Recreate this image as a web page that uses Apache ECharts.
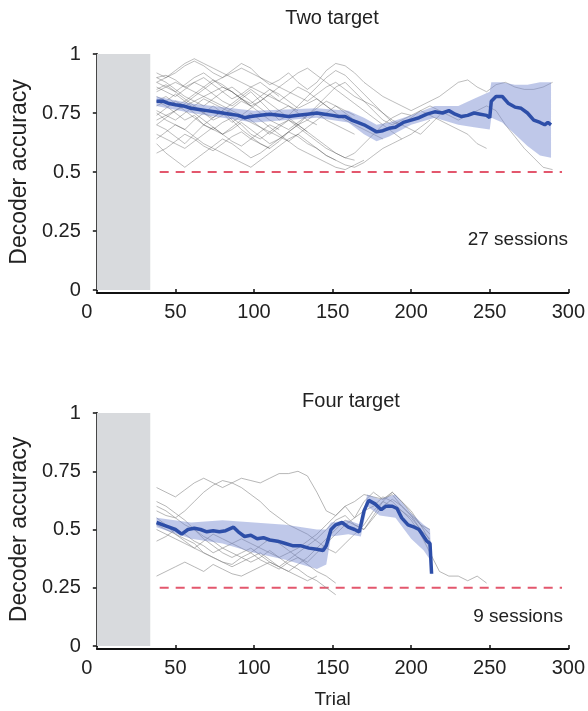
<!DOCTYPE html>
<html>
<head>
<meta charset="utf-8">
<script src="https://cdn.jsdelivr.net/npm/echarts@6/dist/echarts.min.js"></script>
<style>
html,body{margin:0;padding:0;background:#fff;}
#chart{width:588px;height:711px;}
</style>
</head>
<body>
<div id="chart"></div>
<script>
// ---------- DATA ----------
const X_TICKS = [0, 50, 100, 150, 200, 250, 300];
const Y_TICKS = [0, 0.25, 0.5, 0.75, 1];
const CALIB_END = 34;              // grey calibration block (trials 0-34)
const CHANCE_TWO = 0.5;
const CHANCE_FOUR = 0.25;
const CHANCE_RANGE = [40, 296];

// trial grid used by individual session traces
const TRACE_TRIALS = [38,44,50,56,62,68,74,80,86,92,98,104,110,116,122,128,134,140,146,152,158,164,170,176,182,188,194,200,206,212,218,224,230,236,242,248,254,260,266,272,278,284,290];

// ---- Two target: individual sessions ----
const TWO_S1 = [0.88,0.90,0.92,0.95,0.97,0.95,0.92,0.90,0.93,0.96,0.94,0.90,0.87,0.89,0.92,0.88,0.85,0.88,0.93,0.96,0.95,0.92,0.88,0.85,0.82,0.80,0.78,0.76,0.78,0.80,0.82,0.85,0.88,0.89,0.86,0.84,0.87,0.88,0.86,0.85,0.85,0.86,0.88];
const TWO_S2 = [0.80,0.78,0.75,0.72,0.74,0.70,0.68,0.71,0.73,0.70,0.66,0.64,0.67,0.70,0.72,0.69,0.66,0.63,0.60,0.58,0.56,0.58,0.62,0.66,0.70,0.73,0.75,0.74,0.76,0.78,0.76,0.74,0.72,0.74,0.76,0.78,0.76,0.70,0.65,0.60,0.56,0.52,0.51];
const TWO_S3 = [0.86,0.84,0.82,0.85,0.88,0.86,0.83,0.80,0.78,0.81,0.84,0.80,0.76,0.72,0.74,0.78,0.82,0.86,0.90,0.93,0.91,0.87,0.83,0.79,0.75,0.71,0.70,0.73,0.76,0.74,0.72,0.70,0.68,0.66,0.62,0.60];
const TWO_S4 = [0.70,0.68,0.65,0.62,0.66,0.70,0.73,0.76,0.72,0.68,0.65,0.62,0.60,0.63,0.67,0.70,0.74,0.78,0.82,0.86,0.88,0.84,0.80,0.76,0.72,0.70,0.72,0.74];
const TWO_S5 = [0.92,0.90,0.93,0.96,0.98,0.96,0.94,0.92,0.90,0.88,0.86,0.84,0.82,0.80,0.83,0.86,0.84,0.81,0.78,0.75,0.72,0.70,0.68,0.66,0.64];
const TWO_S6 = [0.78,0.80,0.83,0.80,0.77,0.75,0.73,0.76,0.79,0.82,0.85,0.82,0.79,0.76,0.73,0.70,0.72,0.75,0.72,0.70,0.68,0.66];
const TWO_S7 = [0.62,0.58,0.55,0.52,0.55,0.58,0.61,0.64,0.62,0.59,0.56,0.58,0.61,0.64,0.67,0.65,0.62,0.60,0.57,0.55];
const TWO_S8 = [0.90,0.88,0.85,0.82,0.80,0.78,0.81,0.84,0.86,0.83,0.80,0.77,0.74,0.76,0.78,0.75,0.72,0.70];
const TWO_S9 = [0.75,0.72,0.70,0.68,0.65,0.62,0.60,0.58,0.56,0.54,0.52,0.55,0.58,0.61,0.64,0.66,0.63,0.60,0.57,0.55,0.53,0.52,0.54,0.57,0.60,0.62,0.64];
const TWO_S10 = [0.84,0.86,0.88,0.86,0.84,0.82,0.80,0.78,0.76,0.74,0.77,0.80,0.83,0.80,0.78,0.76];
const TWO_S11 = [0.72,0.74,0.76,0.78,0.80,0.82,0.84,0.86,0.84,0.81,0.78,0.75,0.72,0.70,0.68,0.71,0.74,0.77,0.80,0.78,0.75,0.72,0.70,0.68];
const TWO_S12 = [0.66,0.64,0.62,0.60,0.63,0.66,0.69,0.66,0.63,0.61,0.64,0.67,0.70,0.68];
const TWO_S13 = [0.88,0.86,0.84,0.87,0.90,0.92,0.89,0.86,0.84,0.81,0.78,0.80,0.83,0.86,0.89,0.92,0.94,0.91,0.88,0.85,0.82,0.79,0.76,0.73,0.70,0.67,0.64,0.66,0.69,0.72];
const TWO_S14 = [0.58,0.60,0.63,0.66,0.64,0.61,0.59,0.62,0.65,0.67,0.64,0.62,0.60];
const TWO_S15 = [0.80,0.82,0.79,0.76,0.73,0.70,0.68,0.66,0.69,0.72,0.75,0.72,0.69,0.66,0.63,0.60,0.58,0.56,0.54,0.52,0.51,0.53,0.55];
const TWO_S16 = [0.85,0.87,0.84,0.81,0.78,0.75,0.72,0.74,0.77,0.80,0.78];
const TWO_S17 = [0.76,0.74,0.72,0.75,0.78,0.81,0.79,0.77,0.75,0.73,0.71,0.69,0.67,0.65,0.63,0.66,0.69,0.72,0.75,0.78,0.76,0.74];
const TWO_S18 = [0.70,0.73,0.76,0.79,0.82,0.85,0.88,0.90,0.92,0.94,0.92,0.90,0.88,0.86,0.84,0.82,0.80,0.83,0.86,0.88,0.85,0.82,0.80,0.78,0.75,0.72,0.70,0.68,0.66,0.70,0.74];
const TWO_S19 = [0.90,0.91,0.89,0.86,0.88,0.90,0.87,0.84,0.81,0.83,0.86,0.88,0.85,0.82];
const TWO_S20 = [0.74,0.77,0.80,0.78,0.75,0.72,0.69,0.66,0.68,0.71,0.68,0.65,0.62,0.64,0.67,0.70,0.67];
const TWO_S21 = [0.82,0.80,0.78,0.80,0.83,0.86,0.89,0.87,0.84,0.81,0.79,0.82,0.85,0.83,0.80,0.77,0.79,0.81,0.78,0.75];
const TWO_S22 = [0.64,0.67,0.70,0.68,0.72,0.75,0.78,0.75,0.71,0.74,0.72,0.69,0.66,0.69,0.72,0.70,0.67,0.64,0.61,0.58,0.56,0.55];
const TWO_SESSIONS = [TWO_S1,TWO_S2,TWO_S3,TWO_S4,TWO_S5,TWO_S6,TWO_S7,TWO_S8,TWO_S9,TWO_S10,TWO_S11,TWO_S12,TWO_S13,TWO_S14,TWO_S15,TWO_S16,TWO_S17,TWO_S18,TWO_S19,TWO_S20,TWO_S21,TWO_S22];

// ---- Two target: mean and confidence band ----
const TWO_MEAN_TRIAL = [38,42,46,50,55,60,65,70,75,80,85,90,94,98,104,110,116,122,128,134,140,145,150,154,158,162,166,170,174,178,182,186,190,195,200,205,210,215,220,224,228,232,236,240,244,248,250,251,254,258,262,266,270,274,278,282,285,287,289];
const TWO_MEAN = [0.80,0.80,0.79,0.785,0.78,0.77,0.765,0.76,0.755,0.75,0.745,0.74,0.73,0.735,0.74,0.745,0.74,0.735,0.74,0.745,0.75,0.745,0.74,0.735,0.735,0.72,0.71,0.70,0.685,0.67,0.675,0.685,0.69,0.71,0.72,0.73,0.745,0.755,0.75,0.76,0.745,0.735,0.74,0.75,0.745,0.74,0.73,0.80,0.82,0.82,0.79,0.775,0.77,0.75,0.72,0.71,0.70,0.71,0.70];
const TWO_BAND_TRIAL = [38,60,100,140,160,170,178,186,200,215,230,240,250,251,258,266,274,282,289];
const TWO_BAND_HI = [0.82,0.79,0.76,0.77,0.76,0.73,0.70,0.71,0.74,0.78,0.78,0.81,0.84,0.88,0.88,0.87,0.87,0.88,0.88];
const TWO_BAND_LO = [0.78,0.75,0.71,0.73,0.71,0.66,0.63,0.65,0.70,0.73,0.70,0.69,0.68,0.73,0.71,0.66,0.61,0.57,0.56];

// ---- Four target: individual sessions ----
const FOUR_S1 = [0.68,0.66,0.64,0.67,0.70,0.72,0.70,0.68,0.70,0.72,0.71,0.70,0.72,0.74,0.74,0.75,0.73,0.66,0.58,0.56,0.60,0.55,0.62,0.66,0.63,0.65,0.60,0.56,0.52,0.45];
const FOUR_S2 = [0.58,0.56,0.55,0.58,0.62,0.66,0.69,0.71,0.70,0.68,0.65,0.62,0.58,0.55,0.52,0.50,0.48,0.45,0.42,0.40,0.44,0.48,0.52,0.58,0.62,0.60,0.58,0.55,0.50,0.42];
const FOUR_S3 = [0.55,0.52,0.48,0.45,0.42,0.40,0.38,0.36,0.35,0.38,0.40,0.37,0.35,0.33,0.36,0.38,0.35,0.32,0.30,0.27];
const FOUR_S4 = [0.60,0.58,0.55,0.52,0.50,0.47,0.45,0.42,0.40,0.38,0.36,0.38,0.41,0.38,0.35,0.33,0.30,0.28,0.25,0.22];
const FOUR_S5 = [0.30,0.32,0.34,0.36,0.34,0.32,0.35,0.33,0.31,0.30,0.32,0.34,0.36,0.34,0.32,0.30,0.28,0.30];
const FOUR_S6 = [0.50,0.48,0.46,0.44,0.42,0.45,0.48,0.46,0.44,0.42,0.40,0.43,0.46,0.44,0.41,0.38,0.36,0.40,0.44,0.48,0.52,0.55,0.58,0.60,0.64,0.62,0.58,0.54,0.48,0.40,0.32,0.30,0.30,0.28,0.30,0.27];
const FOUR_S7 = [0.62,0.60,0.57,0.54,0.50,0.46,0.43,0.40,0.38,0.40,0.42,0.39,0.36,0.34,0.37,0.40,0.43,0.46,0.50,0.54,0.56,0.52,0.50,0.55,0.60,0.63,0.60,0.56,0.50,0.46];
const FOUR_S8 = [0.45,0.47,0.50,0.48,0.45,0.43,0.40,0.42,0.44,0.46,0.44,0.42,0.40,0.38,0.40,0.42,0.45,0.48,0.52,0.56,0.60,0.62,0.65,0.64,0.63,0.66,0.62,0.58,0.52,0.48];
const FOUR_S9 = [0.52,0.50,0.48,0.46,0.44,0.40,0.38,0.36,0.34,0.36,0.38,0.40,0.37,0.34,0.32,0.35,0.38,0.42,0.46,0.50,0.54,0.52,0.50,0.56,0.62,0.66,0.62,0.57,0.52,0.50];
const FOUR_SESSIONS = [FOUR_S1,FOUR_S2,FOUR_S3,FOUR_S4,FOUR_S5,FOUR_S6,FOUR_S7,FOUR_S8,FOUR_S9];

// ---- Four target: mean and confidence band ----
const FOUR_MEAN_TRIAL = [38,42,46,50,54,58,62,66,70,74,78,82,87,90,94,98,102,106,110,115,120,125,130,135,140,144,146,149,152,156,160,164,167,170,173,177,181,184,188,191,194,198,202,205,208,210,212,213];
const FOUR_MEAN = [0.53,0.52,0.51,0.50,0.48,0.50,0.505,0.50,0.49,0.495,0.49,0.495,0.51,0.49,0.47,0.475,0.46,0.465,0.455,0.45,0.44,0.43,0.43,0.42,0.415,0.41,0.43,0.50,0.52,0.53,0.51,0.50,0.49,0.58,0.625,0.61,0.585,0.60,0.60,0.59,0.55,0.52,0.51,0.50,0.47,0.45,0.44,0.31];
const FOUR_BAND_TRIAL = [38,60,80,100,120,140,146,149,160,168,172,180,190,200,208,212,213];
const FOUR_BAND_HI = [0.55,0.53,0.54,0.53,0.52,0.50,0.50,0.53,0.54,0.52,0.65,0.63,0.65,0.57,0.52,0.50,0.34];
const FOUR_BAND_LO = [0.51,0.46,0.44,0.40,0.37,0.33,0.35,0.47,0.48,0.47,0.60,0.56,0.55,0.46,0.41,0.37,0.30];

// ---------- CHART ----------
const FONT = "'Liberation Sans', Arial, Helvetica, sans-serif";
const chart = echarts.init(document.getElementById('chart'), null, {renderer: 'canvas'});

function pairs(xs, ys) { return ys.map((v, i) => [xs[i], v]); }

function xAxisCfg(gridIndex, withName) {
  return {
    type: 'value', gridIndex, min: 0, max: 300, interval: 50, offset: 3,
    name: withName ? 'Trial' : '', nameLocation: 'middle', nameGap: 41,
    nameTextStyle: {fontFamily: FONT, fontSize: 19, color: '#222'},
    axisLine: {show: true, onZero: false, lineStyle: {color: '#111', width: 1.8}},
    axisTick: {show: true, inside: true, length: 4, lineStyle: {color: '#111', width: 1.5}},
    splitLine: {show: false},
    axisLabel: {
      margin: 9, fontFamily: FONT, fontSize: 20, color: '#222',
      formatter: v => v === 0 ? '{z|0}' : String(v),
      rich: {z: {fontFamily: FONT, fontSize: 20, color: '#222', padding: [0, 20, 0, 0]}}
    }
  };
}
function yAxisCfg(gridIndex) {
  return {
    type: 'value', gridIndex, min: 0, max: 1, interval: 0.25, offset: 8,
    name: 'Decoder accuracy', nameLocation: 'middle', nameGap: 56, nameRotate: 90,
    nameTextStyle: {fontFamily: FONT, fontSize: 23, color: '#222'},
    axisLine: {show: true, lineStyle: {color: '#111', width: 1.8}},
    axisTick: {show: true, inside: false, length: 4, lineStyle: {color: '#111', width: 1.5}},
    splitLine: {show: false},
    axisLabel: {margin: 8, fontFamily: FONT, fontSize: 20, color: '#222'}
  };
}

function bandSeries(idx, bt, hi, lo) {
  return {
    type: 'custom', xAxisIndex: idx, yAxisIndex: idx, silent: true, z: 3,
    data: [[bt[0], hi[0]]],
    renderItem: (params, api) => {
      const pts = [];
      for (let i = 0; i < bt.length; i++) pts.push(api.coord([bt[i], hi[i]]));
      for (let i = bt.length - 1; i >= 0; i--) pts.push(api.coord([bt[i], lo[i]]));
      return {type: 'polygon', shape: {points: pts}, style: {fill: 'rgba(112,132,206,0.45)'}};
    }
  };
}

function panelSeries(idx, sessions, traceColor, traceWidth, meanT, mean, bt, hi, lo, chance) {
  const s = [];
  s.push({
    type: 'line', xAxisIndex: idx, yAxisIndex: idx, silent: true, z: 2,
    data: [[CHANCE_RANGE[0], chance], [CHANCE_RANGE[1], chance]],
    symbol: 'none',
    lineStyle: {color: '#e3576d', width: 2, type: [9, 7]},
    markArea: {silent: true, itemStyle: {color: '#d8dadd'},
      data: [[{coord: [0, 0]}, {coord: [CALIB_END, 1]}]]}
  });
  sessions.forEach(arr => {
    s.push({
      type: 'line', xAxisIndex: idx, yAxisIndex: idx, silent: true, z: 2,
      data: pairs(TRACE_TRIALS, arr), symbol: 'none',
      lineStyle: {color: traceColor, width: traceWidth}
    });
  });
  s.push(bandSeries(idx, bt, hi, lo));
  s.push({
    type: 'line', xAxisIndex: idx, yAxisIndex: idx, silent: true, z: 4,
    data: pairs(meanT, mean), symbol: 'none',
    lineStyle: {color: '#2d4ea8', width: 3.5}
  });
  return s;
}

const option = {
  animation: false,
  backgroundColor: '#fff',
  grid: [
    {left: 96, right: 15, top: 54, height: 236},
    {left: 96, right: 15, top: 413, height: 233}
  ],
  xAxis: [xAxisCfg(0, false), xAxisCfg(1, true)],
  yAxis: [yAxisCfg(0), yAxisCfg(1)],
  graphic: [
    {type: 'text', x: 332, y: 18, style: {text: 'Two target', font: '20px ' + FONT, fill: '#222', align: 'center', verticalAlign: 'middle', textAlign: 'center', textVerticalAlign: 'middle'}},
    {type: 'text', x: 351, y: 401, style: {text: 'Four target', font: '20px ' + FONT, fill: '#222', align: 'center', verticalAlign: 'middle', textAlign: 'center', textVerticalAlign: 'middle'}},
    {type: 'text', x: 568, y: 240, style: {text: '27 sessions', font: '19px ' + FONT, fill: '#222', align: 'right', verticalAlign: 'middle', textAlign: 'right', textVerticalAlign: 'middle'}},
    {type: 'text', x: 563, y: 617, style: {text: '9 sessions', font: '19px ' + FONT, fill: '#222', align: 'right', verticalAlign: 'middle', textAlign: 'right', textVerticalAlign: 'middle'}}
  ],
  series: [
    ...panelSeries(0, TWO_SESSIONS, 'rgba(70,70,70,0.45)', 0.8, TWO_MEAN_TRIAL, TWO_MEAN, TWO_BAND_TRIAL, TWO_BAND_HI, TWO_BAND_LO, CHANCE_TWO),
    ...panelSeries(1, FOUR_SESSIONS, 'rgba(140,140,140,0.7)', 0.9, FOUR_MEAN_TRIAL, FOUR_MEAN, FOUR_BAND_TRIAL, FOUR_BAND_HI, FOUR_BAND_LO, CHANCE_FOUR)
  ]
};
chart.setOption(option);
</script>
</body>
</html>
